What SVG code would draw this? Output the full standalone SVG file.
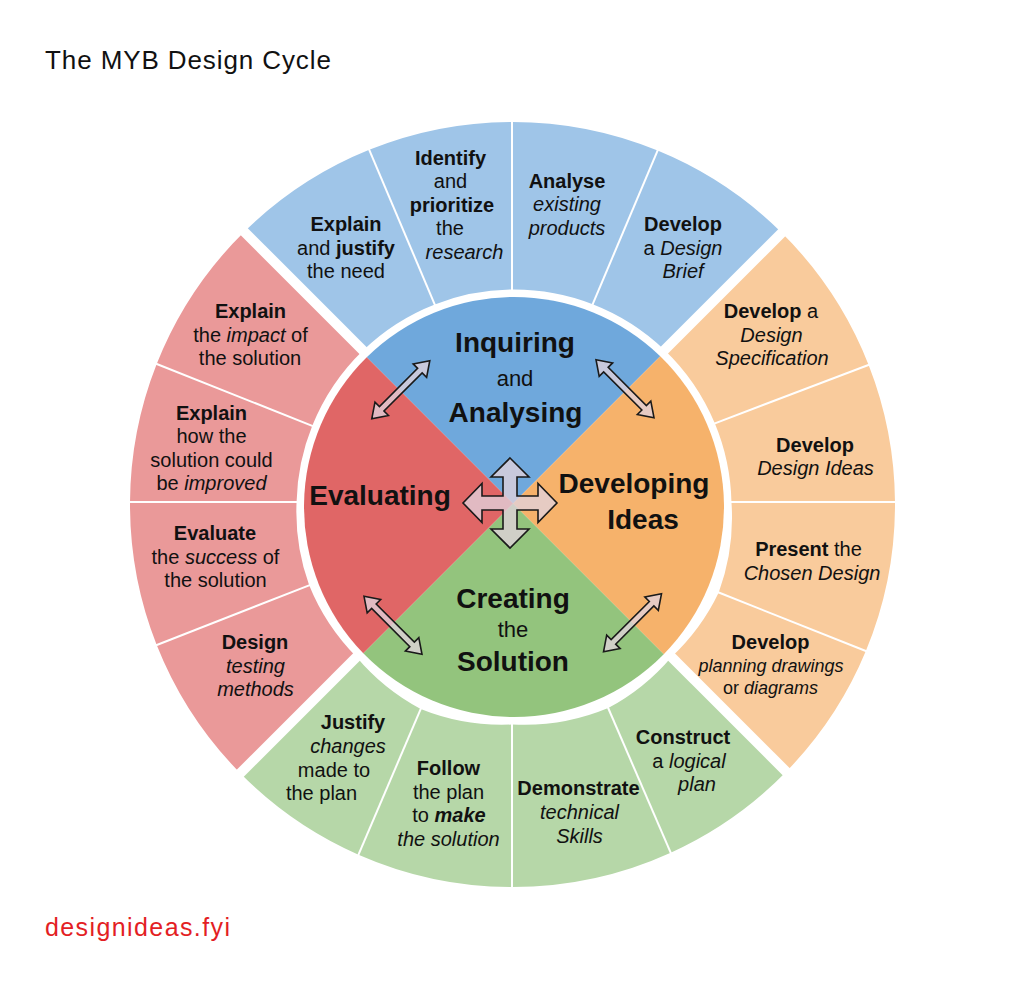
<svg xmlns="http://www.w3.org/2000/svg" width="1024" height="981" viewBox="0 0 1024 981">
<style>
  text { font-family: "Liberation Sans", Arial, Helvetica, sans-serif; }
  .t { font-size: 20px; fill: #111; text-anchor: middle; }
  .sm { font-size: 18px; }
  .b { font-weight: bold; }
  .i { font-style: italic; }
  .core { font-size: 28px; font-weight: bold; fill: #111; text-anchor: middle; }
  .corej { font-size: 22px; font-weight: normal; fill: #111; text-anchor: middle; }
  .blue-o { fill: #9fc5e8; } .orange-o { fill: #f9cb9c; } .green-o { fill: #b6d7a8; } .red-o { fill: #ea9999; }
  .blue-i { fill: #6fa8dc; } .orange-i { fill: #f6b26b; } .green-i { fill: #93c47d; } .red-i { fill: #e06666; }
  .thin { stroke: #fff; stroke-width: 2; }
  .gap { stroke: #fff; stroke-width: 10; }
  .arrow { fill: #e2d2dc; fill-opacity: 0.78; stroke: #1a1a1a; stroke-width: 1.6; stroke-linejoin: miter; }
</style>
<defs>
  <path id="dblArrow" d="M -41 0 L -27 -9.5 L -27 -3.2 L 27 -3.2 L 27 -9.5 L 41 0 L 27 9.5 L 27 3.2 L -27 3.2 L -27 9.5 Z"/>
  <path id="crossArrow" d="M 0 -45 L 19 -26 L 7 -26 L 7 -7 L 28 -7 L 28 -19.5 L 47 0 L 28 19.5 L 28 7 L 7 7 L 7 26 L 19 26 L 0 45 L -19 26 L -7 26 L -7 7 L -28 7 L -28 19.5 L -47 0 L -28 -19.5 L -28 -7 L -7 -7 L -7 -26 L -19 -26 Z"/>
</defs>
<rect width="1024" height="981" fill="#fff"/>

<text id="title" x="45" y="69" font-size="26" letter-spacing="0.9" fill="#111">The MYB Design Cycle</text>

<!-- Inner core quadrants -->
<g id="core-inquiring">
  <path class="blue-i" d="M 513 503.5 L 366.76 357.26 A 210 210 0 0 1 660.22 356.28 Z"/>
  <text class="core" x="515" y="352">Inquiring</text>
  <text class="corej" x="515" y="386">and</text>
  <text class="core" x="515.5" y="421.5">Analysing</text>
</g>
<g id="core-developing">
  <path class="orange-i" d="M 513 503.5 L 660.22 356.28 A 210 210 0 0 1 663.74 654.24 Z"/>
  <text class="core" x="634" y="493">Developing</text>
  <text class="core" x="643" y="529">Ideas</text>
</g>
<g id="core-creating">
  <path class="green-i" d="M 513 503.5 L 663.74 654.24 A 210 210 0 0 1 363.28 653.22 Z"/>
  <text class="core" x="513" y="608">Creating</text>
  <text class="corej" x="513" y="636.5">the</text>
  <text class="core" x="513" y="670.5">Solution</text>
</g>
<g id="core-evaluating">
  <path class="red-i" d="M 513 503.5 L 363.28 653.22 A 210 210 0 0 1 366.76 357.26 Z"/>
  <text class="core" x="380" y="505">Evaluating</text>
</g>

<!-- Ring segments: top (blue) -->
<g id="seg-explain-justify">
  <path class="blue-o" d="M 362.98 350.48 L 244.29 231.79 A 382.5 382.5 0 0 1 369.22 149.86 L 434.74 304.45 A 217.5 217.5 0 0 0 362.98 350.48 Z"/>
  <text class="t" x="346" y="231"><tspan class="b">Explain</tspan></text>
  <text class="t" x="346" y="254.5">and <tspan class="b">justify</tspan></text>
  <text class="t" x="346" y="278">the need</text>
</g>
<g id="seg-identify">
  <path class="blue-o" d="M 434.74 304.45 L 369.22 149.86 A 382.5 382.5 0 0 1 512 122 L 512 289.51 A 217.5 217.5 0 0 0 434.74 304.45 Z"/>
  <text class="t b" x="450.5" y="164.5">Identify</text>
  <text class="t" x="450.5" y="188">and</text>
  <text class="t b" x="452" y="211.5">prioritize</text>
  <text class="t" x="450" y="235">the</text>
  <text class="t i" x="464.5" y="258.5">research</text>
</g>
<g id="seg-analyse">
  <path class="blue-o" d="M 512 289.51 L 512 122 A 382.5 382.5 0 0 1 657.6 150.58 L 592.66 304.22 A 217.5 217.5 0 0 0 512 289.51 Z"/>
  <text class="t b" x="567" y="187.5">Analyse</text>
  <text class="t i" x="567" y="211">existing</text>
  <text class="t i" x="567" y="234.5">products</text>
</g>
<g id="seg-design-brief">
  <path class="blue-o" d="M 592.66 304.22 L 657.6 150.58 A 382.5 382.5 0 0 1 781.72 232.78 L 664.51 349.99 A 217.5 217.5 0 0 0 592.66 304.22 Z"/>
  <text class="t b" x="683" y="231">Develop</text>
  <text class="t" x="683" y="254.5">a <tspan class="i">Design</tspan></text>
  <text class="t i" x="683" y="278">Brief</text>
</g>

<!-- Ring segments: right (orange) -->
<g id="seg-design-spec">
  <path class="orange-o" d="M 664.51 349.99 L 781.72 232.78 A 382.5 382.5 0 0 1 868.61 364.88 L 714.81 423.37 A 217.5 217.5 0 0 0 664.51 349.99 Z"/>
  <text class="t" x="771" y="318"><tspan class="b">Develop</tspan> a</text>
  <text class="t i" x="771.5" y="341.5">Design</text>
  <text class="t i" x="772" y="365">Specification</text>
</g>
<g id="seg-design-ideas">
  <path class="orange-o" d="M 714.81 423.37 L 868.61 364.88 A 382.5 382.5 0 0 1 894.99 502 L 731.44 502 A 217.5 217.5 0 0 0 714.81 423.37 Z"/>
  <text class="t b" x="815" y="451.5">Develop</text>
  <text class="t i" x="815.5" y="475">Design Ideas</text>
</g>
<g id="seg-present">
  <path class="orange-o" d="M 731.44 502 L 894.99 502 A 382.5 382.5 0 0 1 865.84 651.03 L 718.74 592.51 A 217.5 217.5 0 0 0 731.44 502 Z"/>
  <text class="t" x="808.5" y="556"><tspan class="b">Present</tspan> the</text>
  <text class="t i" x="812" y="579.5">Chosen Design</text>
</g>
<g id="seg-planning">
  <path class="orange-o" d="M 718.74 592.51 L 865.84 651.03 A 382.5 382.5 0 0 1 786.2 771.7 L 671.5 657 A 217.5 217.5 0 0 0 718.74 592.51 Z"/>
  <text class="t b" x="770.5" y="649">Develop</text>
  <text class="t sm i" x="771" y="671.5">planning drawings</text>
  <text class="t sm" x="770.5" y="694">or <tspan class="i">diagrams</tspan></text>
</g>

<!-- Ring segments: bottom (green) -->
<g id="seg-construct">
  <path class="green-o" d="M 671.5 657 L 786.2 771.7 A 382.5 382.5 0 0 1 670.7 852.7 L 608.21 708.11 A 217.5 217.5 0 0 0 671.5 657 Z"/>
  <text class="t b" x="683" y="744">Construct</text>
  <text class="t" x="689" y="768">a <tspan class="i">logical</tspan></text>
  <text class="t i" x="697" y="791">plan</text>
</g>
<g id="seg-demonstrate">
  <path class="green-o" d="M 608.21 708.11 L 670.7 852.7 A 382.5 382.5 0 0 1 512 887 L 512 724.49 A 217.5 217.5 0 0 0 608.21 708.11 Z"/>
  <text class="t b" x="578.5" y="795" font-size="18.5">Demonstrate</text>
  <text class="t i" x="579.5" y="819">technical</text>
  <text class="t i" x="579.5" y="842.5">Skills</text>
</g>
<g id="seg-follow">
  <path class="green-o" d="M 512 724.49 L 512 887 A 382.5 382.5 0 0 1 358.46 854.63 L 420.72 708.99 A 217.5 217.5 0 0 0 512 724.49 Z"/>
  <text class="t b" x="448.5" y="775">Follow</text>
  <text class="t" x="448.5" y="798.5">the plan</text>
  <text class="t" x="449" y="822">to <tspan class="b i">make</tspan></text>
  <text class="t i" x="448.5" y="846">the solution</text>
</g>
<g id="seg-justify">
  <path class="green-o" d="M 420.72 708.99 L 358.46 854.63 A 382.5 382.5 0 0 1 240.3 773.2 L 356.5 657 A 217.5 217.5 0 0 0 420.72 708.99 Z"/>
  <text class="t b" x="353" y="729">Justify</text>
  <text class="t i" x="348" y="752.5">changes</text>
  <text class="t" x="334" y="776.5">made to</text>
  <text class="t" x="321.5" y="800">the plan</text>
</g>

<!-- Ring segments: left (red) -->
<g id="seg-testing">
  <path class="red-o" d="M 356.5 657 L 240.3 773.2 A 382.5 382.5 0 0 1 156.7 645 L 309.16 585.33 A 217.5 217.5 0 0 0 356.5 657 Z"/>
  <text class="t b" x="255" y="649">Design</text>
  <text class="t i" x="255.5" y="672.5">testing</text>
  <text class="t i" x="255.5" y="696">methods</text>
</g>
<g id="seg-evaluate">
  <path class="red-o" d="M 309.16 585.33 L 156.7 645 A 382.5 382.5 0 0 1 130.01 502 L 296.56 502 A 217.5 217.5 0 0 0 309.16 585.33 Z"/>
  <text class="t b" x="215" y="540">Evaluate</text>
  <text class="t" x="215.5" y="563.5">the <tspan class="i">success</tspan> of</text>
  <text class="t" x="215.5" y="587">the solution</text>
</g>
<g id="seg-improved">
  <path class="red-o" d="M 296.56 502 L 130.01 502 A 382.5 382.5 0 0 1 156.7 364 L 312.24 425.82 A 217.5 217.5 0 0 0 296.56 502 Z"/>
  <text class="t b" x="211.5" y="419.5">Explain</text>
  <text class="t" x="211.5" y="443">how the</text>
  <text class="t" x="211.5" y="466.5">solution could</text>
  <text class="t" x="211.5" y="490">be <tspan class="i">improved</tspan></text>
</g>
<g id="seg-impact">
  <path class="red-o" d="M 312.24 425.82 L 156.7 364 A 382.5 382.5 0 0 1 244.29 231.79 L 362.98 350.48 A 217.5 217.5 0 0 0 312.24 425.82 Z"/>
  <text class="t b" x="250.5" y="318">Explain</text>
  <text class="t" x="250.5" y="341.5">the <tspan class="i">impact</tspan> of</text>
  <text class="t" x="250" y="365">the solution</text>
</g>

<!-- Separators -->
<g id="separators">
  <line class="thin" x1="435.52" y1="306.29" x2="367.66" y2="146.18"/>
  <line class="thin" x1="512" y1="291.5" x2="512" y2="118"/>
  <line class="thin" x1="591.88" y1="306.06" x2="659.16" y2="146.9"/>
  <line class="thin" x1="712.94" y1="424.08" x2="872.35" y2="363.46"/>
  <line class="thin" x1="729.5" y1="502" x2="899" y2="502"/>
  <line class="thin" x1="716.88" y1="591.77" x2="869.56" y2="652.51"/>
  <line class="thin" x1="607.42" y1="706.27" x2="672.29" y2="856.37"/>
  <line class="thin" x1="512" y1="722.5" x2="512" y2="891"/>
  <line class="thin" x1="421.51" y1="707.15" x2="356.89" y2="858.31"/>
  <line class="thin" x1="311.02" y1="584.6" x2="152.97" y2="646.46"/>
  <line class="thin" x1="298.5" y1="502" x2="126" y2="502"/>
  <line class="thin" x1="314.1" y1="426.56" x2="152.98" y2="362.52"/>
  <line class="gap" x1="365" y1="352.5" x2="238" y2="225.5"/>
  <line class="gap" x1="662.5" y1="352" x2="788" y2="226.5"/>
  <line class="gap" x1="669" y1="654.5" x2="792" y2="777.5"/>
  <line class="gap" x1="359" y1="654.5" x2="234" y2="779.5"/>
</g>

<!-- Connectors (arrows) -->
<g id="connectors">
  <use href="#dblArrow" class="arrow" transform="translate(400.8 389.7) rotate(-45)"/>
  <use href="#dblArrow" class="arrow" transform="translate(625 388.7) rotate(45)"/>
  <use href="#dblArrow" class="arrow" transform="translate(393 625.3) rotate(45)"/>
  <use href="#dblArrow" class="arrow" transform="translate(632.5 622.8) rotate(-45)"/>
  <use href="#crossArrow" class="arrow" transform="translate(510 503)"/>
</g>

<text id="footer" x="45" y="936" font-size="25" letter-spacing="1.4" fill="#e31e24">designideas.fyi</text>
</svg>
